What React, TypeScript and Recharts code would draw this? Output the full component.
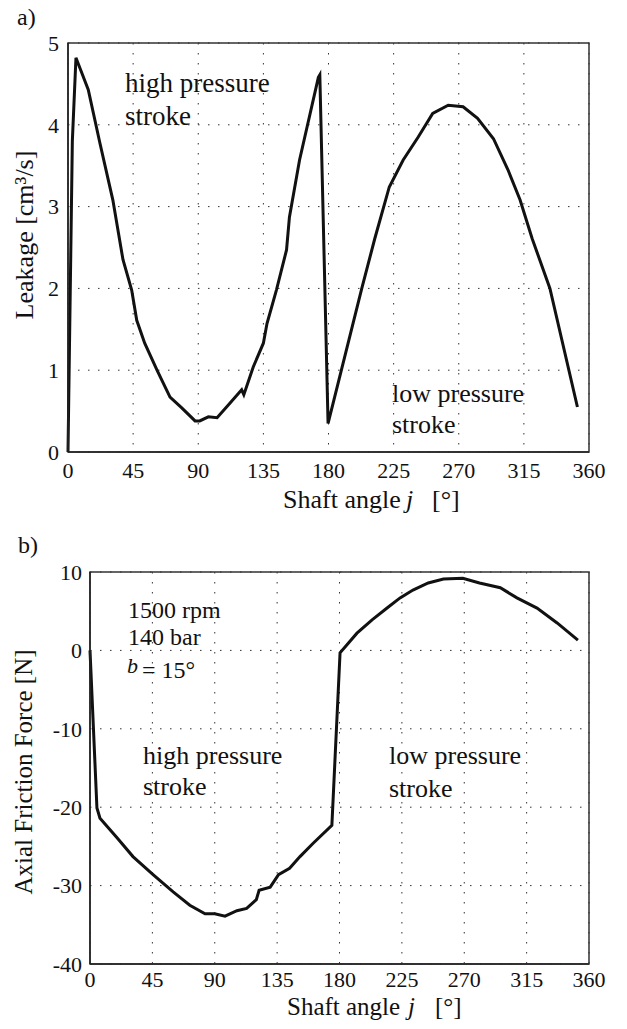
import { LineChart, Line, XAxis, YAxis, CartesianGrid, ReferenceArea } from 'recharts';

const angleTicks = [0, 45, 90, 135, 180, 225, 270, 315, 360];
const leakageTicks = [0, 1, 2, 3, 4, 5];
const forceTicks = [-40, -30, -20, -10, 0, 10];

// a) leakage over shaft angle
const leakageAngle = [0, 3, 5.5, 14, 22, 31, 38, 44, 47.5, 53, 61.5, 70.5, 78.6, 87.8, 91, 97, 103, 112, 120, 121.5, 128, 135, 137.5, 144, 151, 153, 160, 173, 174, 179.7, 203, 212, 222, 231.6, 242, 252, 262.7, 273, 283, 294, 304, 312.4, 320.7, 333, 352];
const leakageValue = [0, 3.8, 4.82, 4.43, 3.78, 3.08, 2.35, 1.98, 1.61, 1.33, 1.0, 0.67, 0.54, 0.38, 0.38, 0.43, 0.42, 0.6, 0.76, 0.7, 1.04, 1.33, 1.57, 1.98, 2.47, 2.87, 3.57, 4.58, 4.61, 0.35, 2.0, 2.61, 3.24, 3.57, 3.85, 4.14, 4.24, 4.22, 4.08, 3.83, 3.45, 3.08, 2.61, 2.0, 0.55];

// b) axial friction force over shaft angle
const forceAngle = [0, 5, 7.2, 19.5, 31, 45.5, 60, 72, 83, 90, 97.4, 106, 113, 120, 122, 130, 136, 144, 151.5, 161, 174.5, 180.4, 192.6, 203.5, 215, 223.7, 233, 244, 255, 269, 281, 296, 308, 322.5, 337, 352];
const forceValue = [0, -20.1, -21.4, -23.9, -26.3, -28.6, -30.8, -32.5, -33.6, -33.6, -33.9, -33.2, -32.9, -31.8, -30.6, -30.2, -28.6, -27.8, -26.3, -24.6, -22.3, -0.3, 2.2, 3.9, 5.5, 6.7, 7.7, 8.6, 9.1, 9.2, 8.6, 8.0, 6.7, 5.4, 3.5, 1.3];

const leakageData = leakageAngle.map((angle, i) => ({ angle, value: leakageValue[i] }));
const forceData = forceAngle.map((angle, i) => ({ angle, value: forceValue[i] }));

const FONT = '"Liberation Serif", "Times New Roman", serif';
const tickStyle = { fontFamily: FONT, fontSize: 22, fill: '#111' };

export default function App() {
  return (
    <div style={{ position: 'absolute', left: 0, top: 0, width: 627, height: 1029, background: '#fff', fontFamily: FONT }}>
      <div style={{ position: 'absolute', left: 0, top: 0 }}>
        <LineChart width={627} height={520} data={leakageData} margin={{ top: 43, right: 38, left: 18, bottom: 28 }} style={{ fontFamily: FONT }}>
          <CartesianGrid stroke="#333" strokeDasharray="1.5 8.5" />
          <XAxis
            dataKey="angle"
            type="number"
            domain={[0, 360]}
            ticks={angleTicks}
            height={40}
            tickLine={false}
            tickSize={6}
            tickMargin={4}
            axisLine={{ stroke: '#222', strokeWidth: 1.5 }}
            tick={tickStyle}
          />
          <YAxis
            type="number"
            domain={[0, 5]}
            ticks={leakageTicks}
            width={50}
            tickLine={false}
            tickSize={6}
            tickMargin={3}
            axisLine={{ stroke: '#222', strokeWidth: 1.5 }}
            tick={tickStyle}
          />
          <ReferenceArea x1={0} x2={360} y1={0} y2={5} fill="none" stroke="#333" strokeWidth={1.5} />
          <Line dataKey="value" type="linear" stroke="#111" strokeWidth={3} dot={false} isAnimationActive={false} />
        </LineChart>
      </div>
      <div style={{ position: 'absolute', left: 0, top: 520 }}>
        <LineChart width={627} height={509} data={forceData} margin={{ top: 52, right: 38, left: 30, bottom: 25 }} style={{ fontFamily: FONT }}>
          <CartesianGrid stroke="#333" strokeDasharray="1.5 8.5" />
          <XAxis
            dataKey="angle"
            type="number"
            domain={[0, 360]}
            ticks={angleTicks}
            height={40}
            tickLine={false}
            tickSize={6}
            tickMargin={1}
            axisLine={{ stroke: '#222', strokeWidth: 1.5 }}
            tick={tickStyle}
          />
          <YAxis
            type="number"
            domain={[-40, 10]}
            ticks={forceTicks}
            width={60}
            tickLine={false}
            tickSize={6}
            tickMargin={2}
            axisLine={{ stroke: '#222', strokeWidth: 1.5 }}
            tick={tickStyle}
          />
          <ReferenceArea x1={0} x2={360} y1={-40} y2={10} fill="none" stroke="#333" strokeWidth={1.5} />
          <Line dataKey="value" type="linear" stroke="#111" strokeWidth={3} dot={false} isAnimationActive={false} />
        </LineChart>
      </div>
      <svg width={627} height={1029} style={{ position: 'absolute', left: 0, top: 0, pointerEvents: 'none', fontFamily: FONT }} fill="#111">
        <text x={17} y={25} fontSize={24}>a)</text>
        <text x={125} y={92} fontSize={27}>high pressure</text>
        <text x={125} y={125} fontSize={27}>stroke</text>
        <text x={392} y={402} fontSize={26}>low pressure</text>
        <text x={392} y={433} fontSize={26}>stroke</text>
        <text x={283} y={508} fontSize={26}>Shaft angle</text>
        <text x={406} y={508} fontSize={26} fontStyle="italic">j</text>
        <text x={432} y={508} fontSize={26}>[°]</text>
        <text transform="translate(33,235) rotate(-90)" textAnchor="middle" fontSize={26}>Leakage [cm³/s]</text>

        <text x={18} y={553} fontSize={24}>b)</text>
        <text x={128} y={618} fontSize={24}>1500 rpm</text>
        <text x={128} y={645} fontSize={24}>140 bar</text>
        <text x={127} y={673} fontSize={22} fontStyle="italic">b</text>
        <text x={142} y={678} fontSize={24}>= 15°</text>
        <text x={143} y={764} fontSize={26}>high pressure</text>
        <text x={143} y={795} fontSize={26}>stroke</text>
        <text x={389} y={764} fontSize={26}>low pressure</text>
        <text x={389} y={797} fontSize={26}>stroke</text>
        <text x={287} y={1015} fontSize={25}>Shaft angle</text>
        <text x={408} y={1015} fontSize={25} fontStyle="italic">j</text>
        <text x={435} y={1015} fontSize={25}>[°]</text>
        <text transform="translate(32,772) rotate(-90)" textAnchor="middle" fontSize={25}>Axial Friction Force [N]</text>
      </svg>
    </div>
  );
}
